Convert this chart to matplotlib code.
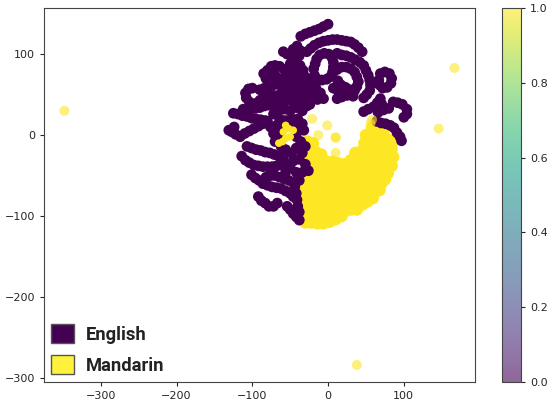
import matplotlib
matplotlib.use('Agg')
import matplotlib.pyplot as plt
from matplotlib.patches import Patch
import numpy as np

# 2D embedding, points
english = [
    # top stroke
    (-36,122),(-30,125),(-24,127),(-18,129),(-12,131),(-6,134),(0,137),
    # big arc
    (-28,103),(-23,107),(-18,111),(-12,114),(-6,116),(0,117),(6,118),(12,118),(18,117),(24,116),(30,115),(35,112),(40,108),(45,103),
    # outer right arc
    (12,101),(18,99),(24,98),(30,96),(36,93),(42,90),(47,86),(50,80),(53,74),(55,68),(56,62),(55,55),(51,50),(47,46),
    # loop 1
    (-19,82),(-17,88),(-15,94),(-11,99),(-5,101),(1,100),(5,96),(7,90),(7,84),(6,78),(3,72),(-2,69),(-8,68),(-14,69),(-18,74),
    # loop 2
    (7,78),(12,81),(18,84),(24,84),(30,82),(35,78),(38,72),(40,66),(38,60),(35,55),(29,56),(23,59),(17,62),(13,67),
    (7,58),(13,55),(20,52),(27,50),(33,48),(12,45),(18,47),(25,49),
    # left top
    (-59,103),(-54,100),(-48,97),(-42,92),(-37,86),(-33,80),(-32,74),(-33,68),(-36,62),(-46,106),(-41,110),(-36,104),(-38,98),
    (-85,76),(-80,80),(-75,85),(-70,86),(-64,85),(-58,81),(-54,77),(-50,72),(-82,70),(-76,72),(-70,74),
    (-109,52),(-105,57),(-100,58),(-108,46),(-104,41),(-96,39),(-90,43),(-84,46),(-78,48),(-72,49),(-66,49),
    (-96,33),(-90,34),(-84,36),(-78,37),(-72,39),(-66,41),(-60,42),(-54,43),
    (-90,56),(-84,58),(-78,60),(-72,62),(-66,63),(-60,64),(-54,65),(-48,66),
    # dense centre
    (-60,70),(-52,68),(-44,72),(-36,76),(-28,70),(-22,62),(-16,58),(-10,52),(-6,45),(-14,44),(-22,48),(-30,52),(-38,54),(-46,52),(-54,54),
    (-60,56),(-56,46),(-48,42),(-40,44),(-32,42),(-24,38),(-34,30),(-42,34),(-50,30),(-58,32),(-66,30),(-72,26),
    (-64,20),(-56,18),(-48,20),(-40,20),(-34,14),(-32,6),(-36,8),(-44,10),(-52,12),(-60,10),(-68,12),(-76,10),(-72,2),
    (-64,0),(-70,-8),(-42,-2),(-36,-8),(-30,-14),(-34,-22),(-42,-16),(-48,-22),(-56,-18),(-62,-14),(-38,-30),(-46,-32),(-30,-36),(-26,-44),(-34,-46),(-42,-46),
    (-44,60),(-38,62),(-30,60),(-24,54),(-44,82),(-50,88),(-28,36),(-36,38),(-50,-40),(-56,-46),(-38,-56),
    # left strokes
    (-125,27),(-119,26),(-113,24),(-107,23),(-101,21),(-95,20),(-89,19),(-83,18),(-112,32),(-106,30),
    (-131,6),(-127,4),(-122,1),(-116,-2),(-110,2),(-104,5),(-98,8),(-92,11),(-86,14),(-80,17),(-124,10),
    (-107,-14),(-101,-16),(-95,-18),(-89,-19),(-83,-21),(-77,-22),(-71,-24),(-65,-26),(-59,-28),
    (-114,-26),(-109,-31),(-104,-34),(-98,-37),(-92,-38),(-86,-39),(-80,-39),(-74,-39),(-68,-38),(-62,-37),(-56,-36),
    (-101,-49),(-96,-53),(-91,-56),(-86,-60),(-80,-62),(-74,-64),(-68,-65),(-62,-66),(-56,-69),(-50,-72),(-46,-76),
    (-82,-52),(-76,-50),(-70,-50),(-64,-52),(-58,-54),(-52,-56),(-46,-58),
    (-92,-76),(-88,-81),(-83,-84),(-78,-88),(-72,-88),(-67,-84),
    (-54,-88),(-50,-92),(-46,-97),(-42,-101),(-38,-105),
    (-44,-64),(-42,-72),(-41,-80),(-40,-88),(-38,-95),
    # right group
    (69,76),(75,78),(81,76),(84,70),(83,64),(78,59),(72,58),(68,62),(67,68),
    (47,29),(53,32),(60,35),(65,40),(69,45),(71,38),(73,31),(66,28),
    (86,41),(92,40),(98,38),(104,32),(104,26),(100,22),(80,33),
    (64,17),(70,15),(76,14),(82,12),(87,9),(91,3),(95,-2),(97,-7),
]
mandarin = [
    (-30,-108),(-22,-108),(-14,-109),(-6,-109),(2,-107),(10,-104),(18,-100),
    (-34,-100),(-26,-98),(-18,-98),(-10,-98),(-2,-98),(6,-98),(14,-96),(22,-94),(30,-92),(38,-92),
    (-35,-88),(-27,-87),(-19,-87),(-11,-87),(-3,-87),(5,-87),(13,-87),(21,-86),(29,-85),(37,-84),(45,-86),(52,-82),(59,-78),
    (-35,-76),(-27,-76),(-19,-76),(-11,-76),(-3,-76),(5,-76),(13,-76),(21,-75),(29,-74),(37,-74),(45,-74),(53,-73),(61,-71),(68,-68),
    (-34,-66),(-26,-65),(-18,-65),(-10,-65),(-2,-65),(6,-65),(14,-65),(22,-64),(30,-64),(38,-63),(46,-63),(54,-62),(62,-61),(70,-60),(75,-55),
    (-32,-54),(-24,-54),(-16,-54),(-8,-54),(0,-54),(8,-53),(16,-53),(24,-53),(32,-52),(40,-52),(48,-51),(56,-51),(64,-50),(72,-49),(79,-47),
    (-27,-43),(-19,-43),(-11,-44),(-3,-44),(5,-43),(13,-42),(21,-42),(29,-42),(37,-41),(45,-41),(53,-40),(61,-40),(69,-39),(77,-38),(84,-38),
    (-25,-31),(-18,-33),(-10,-34),(-2,-33),(6,-33),(14,-35),(22,-36),(30,-31),(38,-30),(46,-30),(54,-29),(62,-29),(70,-28),(78,-28),(86,-27),
    (-23,-20),(-16,-21),(-9,-24),(36,-22),(44,-20),(52,-19),(60,-18),(68,-18),(76,-17),(84,-17),
    (-27,-8),(-20,-10),(48,-10),(56,-8),(64,-7),(72,-7),(80,-6),(85,-9),
    (50,0),(58,2),(66,3),(73,4),(58,9),(66,10),
]
# isolated points that stay pale
outliers_x = [-348, 167, 146, 38, -21, -1, -13, 10, 10, 10, 58, 56]
outliers_y = [30, 83, 8, -284, 20, 12, 0, -3, -3, -22, 19, 14]
# small yellow patch inside the purple
cluster = [(-59,4),(-52,8),(-46,6),(-50,-2),(-56,-4),(-65,-10),(-60,-8),(-56,12)]
english_colour = '#440154'
legend_labels = ['English', 'Mandarin']

eng = np.array(english)
man = np.array(mandarin)
clu = np.array(cluster)

fig = plt.figure(figsize=(5.49, 4.03), dpi=100)
ax = fig.add_axes([44/549, 1-382/403, (475-44)/549, (382-8)/403])
cax = fig.add_axes([502/549, 1-382/403, 19/549, (382-8)/403])

# yellow blob first, purple goes over its edge
ax.scatter(man[:, 0], man[:, 1], c=np.ones(len(man)), cmap='viridis', vmin=0, vmax=1, s=80, linewidths=0)
ax.scatter(eng[:, 0], eng[:, 1], c=np.zeros(len(eng)), cmap='viridis', vmin=0, vmax=1, s=60, linewidths=0)
ax.scatter(clu[:, 0], clu[:, 1], c=np.ones(len(clu)), cmap='viridis', vmin=0, vmax=1, s=30, linewidths=0)
sc = ax.scatter(outliers_x, outliers_y, c=np.ones(len(outliers_x)), cmap='viridis', vmin=0, vmax=1,
                s=52, alpha=0.6, linewidths=0)

ax.set_xlim(-375, 194)
ax.set_ylim(-305, 157)
ax.set_xticks([-300, -200, -100, 0, 100])
ax.set_yticks([-300, -200, -100, 0, 100])

cb = fig.colorbar(sc, cax=cax)
cb.set_ticks([0.0, 0.2, 0.4, 0.6, 0.8, 1.0])

for a in [ax, cax]:
    a.tick_params(labelsize=8, colors='#262626', length=3, width=0.8)
    for sp in a.spines.values():
        sp.set_color('#444444')

handles = [Patch(facecolor=english_colour, edgecolor='#555555', label=legend_labels[0]),
           Patch(facecolor='#fff13c', edgecolor='#555555', label=legend_labels[1])]
ax.legend(handles=handles, loc='lower left', frameon=False, handlelength=1.26, handleheight=1.2,
          labelspacing=0.6, handletextpad=0.65, borderaxespad=0.3, borderpad=0.1,
          prop={'family': 'Roboto', 'weight': 'bold', 'size': 13.2}, labelcolor='#222222')

fig.savefig('out.png', dpi=100)
